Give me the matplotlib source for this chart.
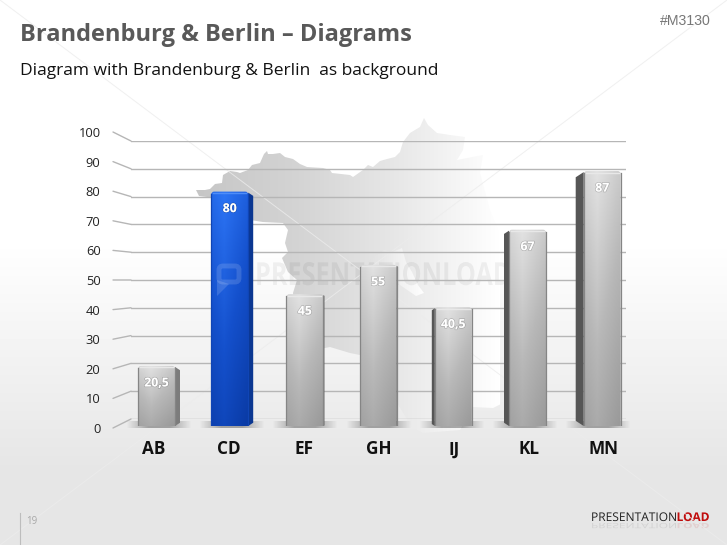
"""
Brandenburg & Berlin slide: bar chart over a faded map silhouette.
"""
import matplotlib
matplotlib.use("Agg")
import matplotlib.patheffects as pe
import matplotlib.pyplot as plt
import numpy as np
from matplotlib.colors import LinearSegmentedColormap
from matplotlib.font_manager import FontProperties
from matplotlib.lines import Line2D
from matplotlib.patches import ConnectionPatch, FancyBboxPatch, PathPatch, Polygon
from matplotlib.textpath import TextPath
from matplotlib.transforms import Affine2D

categories = ["AB", "CD", "EF", "GH", "IJ", "KL", "MN"]
values = [20.5, 80, 45, 55, 40.5, 67, 87]
y_ticks = list(range(0, 101, 10))
highlight = "CD"

# silhouette of the state, slide pixels
map_outline = [
    (196, 190), (205, 190), (210, 189), (215, 184), (222, 183), (223, 175), (230, 171),
    (237, 172), (240, 173), (248, 170), (252, 165), (260, 163), (264, 154), (267, 151),
    (268, 154), (273, 154), (280, 153), (285, 157), (293, 159), (300, 164), (307, 167),
    (323, 168), (330, 170), (332, 173), (350, 175), (353, 177), (363, 170), (368, 165),
    (373, 167), (380, 161), (387, 159), (395, 157), (400, 152), (403, 142), (410, 133),
    (420, 127), (424, 118), (428, 125), (437, 133), (450, 135), (465, 137), (463, 150),
    (457, 160), (483, 155), (480, 173), (490, 210), (510, 260), (530, 330), (525, 395),
    (505, 402), (493, 408), (472, 407), (460, 430), (423, 433), (413, 428), (395, 400),
    (378, 360), (360, 355), (350, 353), (340, 350), (330, 347), (325, 348), (300, 350),
    (293, 293), (297, 280), (288, 272), (282, 258), (288, 252), (285, 243), (288, 230),
    (283, 223), (263, 222), (250, 220), (215, 220), (213, 197), (207, 197), (199, 196),
]
berlin_outline = [
    (368, 262), (376, 255), (384, 250), (392, 252), (402, 248), (406, 262), (412, 272),
    (418, 285), (424, 293), (416, 296), (400, 285), (372, 275),
]

W, H = 727, 545
BAR_PX = 73.2      # bar spacing, px
BAR_SCALE = 2.93   # px per value unit
side_px = [5, 5, 1, 1, -3, -5, -8]  # + right side visible, - left side visible

plt.rcParams["font.family"] = ["Open Sans", "DejaVu Sans"]
fig = plt.figure(figsize=(W / 100, H / 100), dpi=100)


def px_axes(left, right, top, bottom):
    return fig.add_axes([left / W, 1 - bottom / H, (right - left) / W, (bottom - top) / H])


# slide background, map and watermark, in pixels
bg = px_axes(0, W, 0, H)
bg.axis("off")
ramp = np.interp(np.arange(H), [0, 240, 470, H], [1.0, 1.0, 0.90, 0.90])
bg.imshow(ramp[:, None], cmap="gray", vmin=0, vmax=1, extent=(0, W, H, 0), aspect="auto")

fade = LinearSegmentedColormap.from_list(
    "fade", [(0, "#c6c6c6"), (0.34, "#d4d4d4"), (0.67, "#e8e8e8"), (0.87, "#f6f6f6"), (1, "#ffffff")])
for outline, span in ((map_outline, (196, 500)), (berlin_outline, (300, 425))):
    shape = Polygon(outline, closed=True, transform=bg.transData, fc="none", ec="none")
    bg.add_patch(shape)
    im = bg.imshow(np.linspace(0, 1, 256)[None, :], cmap=fade, vmin=0, vmax=1,
                   extent=(span[0], span[1], H, 0), aspect="auto")
    im.set_clip_path(shape)

bg.plot([0, W], [0, H], color="#ececec", lw=0.7, alpha=0.8)
bg.plot([0, W], [H, 0], color="#ececec", lw=0.7, alpha=0.8)

# watermark lettering, stretched to the tall narrow look of the original
wm_font = FontProperties(family="Open Sans", weight="bold")
wm = TextPath((0, 0), "PRESENTATIONLOAD", prop=wm_font, size=20)
wm_box = wm.get_extents()
bg.add_patch(PathPatch(wm, fc="#000000", ec="none", alpha=0.055,
                       transform=Affine2D().scale(255 / wm_box.x1, -23 / wm_box.y1).translate(255, 285) + bg.transData))

bg.text(20, 35, "Brandenburg & Berlin – Diagrams", fontsize=17, fontweight="bold",
        color="#595959", va="center")
bg.text(20, 71, "Diagram with Brandenburg & Berlin  as background", fontsize=12.5,
        color="#111111", va="center")
bg.text(711, 21, "#M3130", fontsize=10.2, color="#777777", va="center", ha="right",
        family=["Liberation Sans"])
bg.text(26, 521, "19", fontsize=7, color="#a8a8a8", va="center")
bg.add_line(Line2D([19.5, 19.5], [513, 545], color="#bdbdbd", lw=0.8))

# logo with its reflection
logo_font = FontProperties(family="Open Sans")
logo_bold = FontProperties(family="Open Sans", weight="bold")
logo_x = 591
for word, font, color in (("PRESENTATION", logo_font, "#222222"), ("LOAD", logo_bold, "#c00d0d")):
    tp = TextPath((0, 0), word, prop=font, size=12)
    bg.add_patch(PathPatch(tp, fc=color, ec="none",
                           transform=Affine2D().scale(1, -1).translate(logo_x, 521) + bg.transData))
    bg.add_patch(PathPatch(tp, fc=color, ec="none", alpha=0.1,
                           transform=Affine2D().scale(1, 0.6).translate(logo_x, 523) + bg.transData))
    logo_x += tp.get_extents().x1 + 0.6
bg.set_xlim(0, W)
bg.set_ylim(H, 0)

# back wall with the grid
back = px_axes(131, 626, 141, 419)
back.set_xlim(0, 1)
back.set_ylim(0, 100)
back.axis("off")
for t in y_ticks:
    back.axhline(t, color="#b6b6b6", lw=1.0, zorder=2)

# front axis: tick labels and categories
front = px_axes(116.5, 641.5, 132, 428)
front.set_xlim(-0.5, len(categories) - 0.5)
front.set_ylim(0, 100)
front.patch.set_alpha(0)
for s in front.spines.values():
    s.set_visible(False)
front.set_yticks(y_ticks)
front.set_xticks(range(len(categories)))
front.set_xticklabels(categories, fontsize=12.3, fontweight="bold", color="#111111")
front.tick_params(axis="both", length=0)
front.tick_params(axis="x", pad=9)
front.tick_params(axis="y", labelsize=9.3, labelcolor="#222222", pad=11.5)
for t in y_ticks:
    fig.add_artist(ConnectionPatch((113, 545 - (428 - 2.96 * t)), (0, t), coordsA="figure pixels",
                                   coordsB=back.transData, color="#b6b6b6", lw=1.0))

# bars
bars = px_axes(159 - BAR_PX / 2, 159 + BAR_PX * 6.5, 426 - 100 * BAR_SCALE, 426)
bars.set_xlim(-0.5, len(categories) - 0.5)
bars.set_ylim(0, 100)
bars.axis("off")
ux = 1 / BAR_PX
uy = 1 / BAR_SCALE

gray_map = LinearSegmentedColormap.from_list("g", ["#9a9a9a", "#b8b8b8", "#e2e2e2"])
blue_map = LinearSegmentedColormap.from_list("b", ["#0a3ba6", "#1450cc", "#2c74f5"])
shadow = LinearSegmentedColormap.from_list("s", ["#00000000", "#00000050", "#00000050", "#00000000"])

# base shadows
for i in range(len(categories)):
    cx = 159 + BAR_PX * i
    bg.imshow(np.linspace(0, 1, 64)[None, :], cmap=shadow, vmin=0, vmax=1,
              extent=(cx - 33, cx + 33, 428, 421), aspect="auto", zorder=5)
bg.set_xlim(0, W)
bg.set_ylim(H, 0)

yy, xx = np.mgrid[1:0:64j, 0:1:32j]
for i, (name, v, side) in enumerate(zip(categories, values, side_px)):
    is_hi = name == highlight
    cmap = blue_map if is_hi else gray_map
    total = 37 + abs(side)
    left = i - total / 2 * ux + max(-side, 0) * ux
    right = i + total / 2 * ux - max(side, 0) * ux
    box = FancyBboxPatch((left, -5), right - left, v + 5, boxstyle=f"round,pad=0,rounding_size={3 * ux}",
                         mutation_aspect=BAR_PX / BAR_SCALE, fc="none", ec="none", zorder=3)
    bars.add_patch(box)
    shade = 0.72 * yy + 0.28 * (1 - np.abs(xx - 0.35) * 1.6)
    im = bars.imshow(shade, cmap=cmap, vmin=0, vmax=1, extent=(left, right, 0, v), aspect="auto", zorder=3)
    im.set_clip_path(box)

    # side wall
    s_col = "#0b3791" if is_hi else ("#7c7c7c" if side > 1 else "#565656")
    edge = right if side > 0 else left
    sign = 1 if side > 0 else -1
    w = abs(side) * ux
    dy = abs(side) * 0.65 * uy
    bars.add_patch(Polygon([(edge, 0), (edge + sign * w, dy), (edge + sign * w, v - dy - 1 * uy), (edge, v - 1 * uy)],
                           closed=True, fc=s_col, ec="none", zorder=4))
    # thin dark edges and top highlight
    edge_col = "#1045b5" if is_hi else "#858585"
    bars.plot([left, left], [0, v - 2 * uy], color=edge_col, lw=0.9, zorder=4)
    bars.plot([right, right], [0, v - 2 * uy], color=edge_col, lw=0.9, zorder=4)
    bars.plot([left + 2 * ux, right - 2 * ux], [v - 1.5 * uy] * 2,
              color="#4f8df8" if is_hi else "#e8e8e8", lw=1.0, zorder=4)

    label = f"{v:g}".replace(".", ",")
    bars.annotate(label, xy=((left + right) / 2, v), xytext=(0, -17), textcoords="offset pixels",
                  ha="center", va="center", fontsize=8.8, fontweight="bold", color="white", zorder=6,
                  path_effects=[pe.withStroke(linewidth=1.0, foreground="#00000030")])

# speech bubble of the watermark lies over the blue bar
bars.add_patch(FancyBboxPatch((219, 266), 20, 16, boxstyle="round,pad=0,rounding_size=4",
                              transform=bg.transData, fc="none", ec="#ffffff", lw=3.5, alpha=0.14, zorder=7))
bars.add_patch(Polygon([(217, 280), (217, 296), (229, 284)], closed=True, transform=bg.transData,
                       fc="#ffffff", ec="none", alpha=0.14, zorder=7))

fig.savefig("out.png", dpi=100)
